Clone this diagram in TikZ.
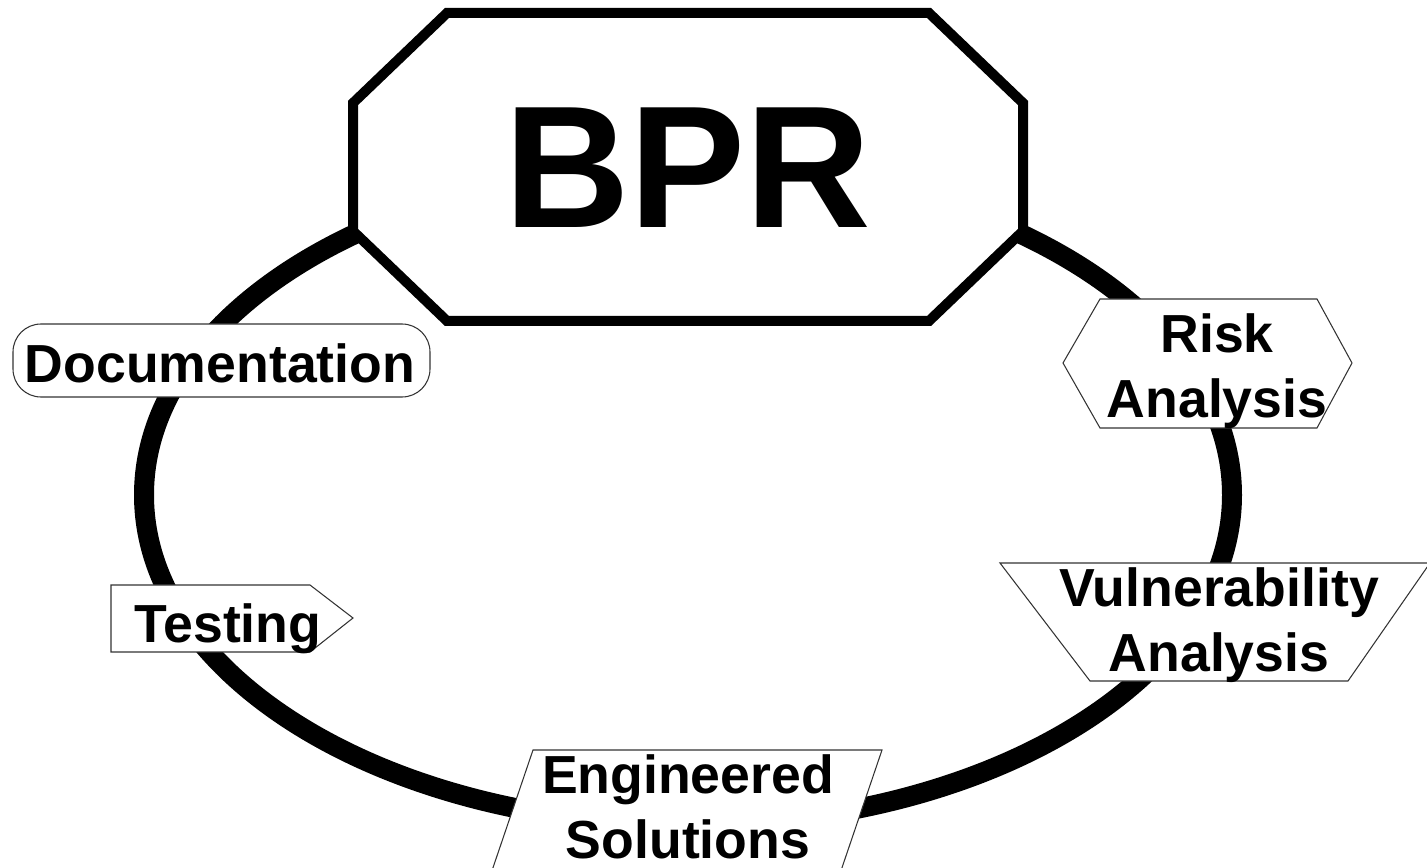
\documentclass[tikz,border=0pt]{standalone}
\usepackage{fontspec}
\setmainfont{Liberation Sans}
\usepackage{tikz}
\definecolor{edge}{HTML}{333333}
\tikzset{tag/.style={draw=edge,line width=.6pt,fill=white},lbl/.style={font=\bfseries\fontsize{30.5}{37}\selectfont,align=center,inner sep=0pt}}

\begin{document}
\begin{tikzpicture}[x=1cm,y=1cm,
ring/.style={draw=black,line width=.4cm},
hub/.style={draw=black,line width=.2cm,fill=white,line join=miter},
hubtext/.style={font=\bfseries\fontsize{99}{110}\selectfont,inner sep=0pt}]
\clip (0,0) rectangle (28.54,17.34);
\draw[ring] (13.76,7.44) ellipse [x radius=10.88,y radius=6.6];
% BPR hub
\draw[hub] (7.06,15.28)--(8.94,17.08)--(18.58,17.08)--(20.46,15.28)--(20.46,12.72)--(18.58,10.92)--(8.94,10.92)--(7.06,12.72)--cycle;
\node[hubtext] (bpr) at (13.76,13.98) {BPR};
% stages round the ring
\draw[tag,rounded corners=.56cm] (.26,9.4) rectangle (8.6,10.86);
\node[lbl] (doc) at (4.4,10.08) {Documentation};
\draw[tag] (21.26,10.08)--(22,11.36)--(26.34,11.36)--(27.04,10.08)--(26.34,8.78)--(22,8.78)--cycle;
\node[lbl] (risk) at (24.34,9.92) {Risk\\Analysis};
\draw[tag] (20,6.08)--(28.6,6.08)--(26.96,3.72)--(21.8,3.72)--cycle;
\node[lbl] (vuln) at (24.38,4.83) {Vulnerability\\Analysis};
\draw[tag] (10.66,2.34)--(17.64,2.34)--(16.62,-.66)--(9.64,-.66)--cycle;
\node[lbl] (eng) at (13.76,1.2) {Engineered\\Solutions};
\draw[tag] (2.22,5.64)--(6.2,5.64)--(7.06,4.98)--(6.2,4.3)--(2.22,4.3)--cycle;
\node[lbl] (test) at (4.56,4.76) {Testing};
\end{tikzpicture}
\end{document}
